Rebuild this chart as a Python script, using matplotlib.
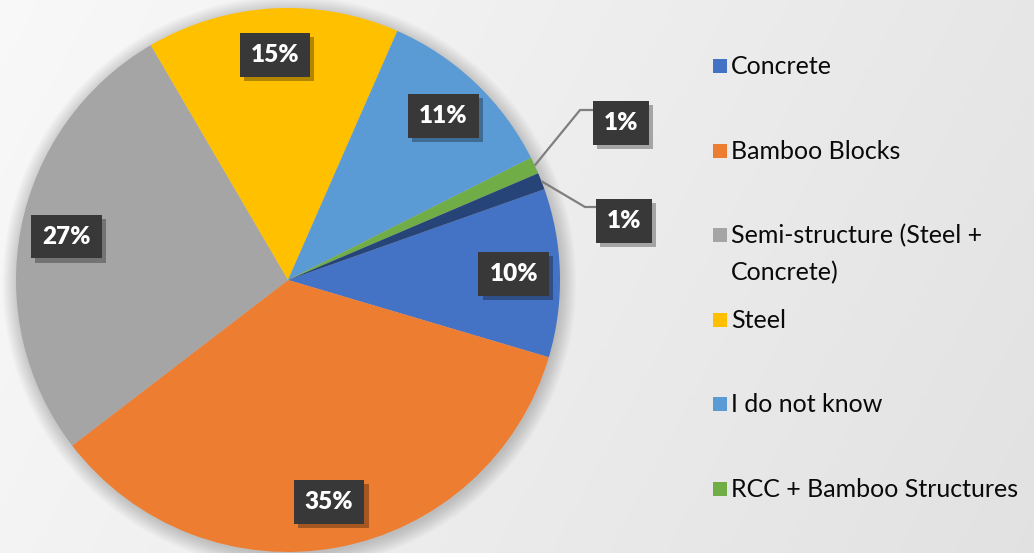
import numpy as np
import matplotlib
matplotlib.use("Agg")
import matplotlib.pyplot as plt
from matplotlib.patches import Rectangle, Circle
import matplotlib.patheffects as pe

# ---- data ----
categories = ["Concrete", "Bamboo Blocks", "Semi-structure (Steel +\nConcrete)",
              "Steel", "I do not know", "RCC + Bamboo Structures", "Other"]
values = [10, 35, 27, 15, 11, 1, 1]
labels = ["10%", "35%", "27%", "15%", "11%", "1%", "1%"]
colors = ["#4472C4", "#ED7D31", "#A5A5A5", "#FFC000", "#5B9BD5", "#70AD47", "#264478"]
legend_count = 6  # the last category is not shown in the legend

W, H, DPI = 1034, 553, 100
fig = plt.figure(figsize=(W / DPI, H / DPI), dpi=DPI)

# background gradient
bg = fig.add_axes([0, 0, 1, 1])
bg.set_axis_off()
xx, yy = np.meshgrid(np.linspace(0, 1, 300), np.linspace(0, 1, 160))
shade = 0.975 - 0.07 * xx - 0.02 * yy
bg.imshow(np.dstack([shade, shade, shade]), extent=[0, 1, 0, 1], aspect="auto",
          origin="upper", zorder=0)
bg.set_xlim(0, 1)
bg.set_ylim(0, 1)

# pie axes: one data unit = pie radius (272 px); centre at pixel (288, 280)
R = 272.0
cx, cy = 288.0, 280.0
ax = fig.add_axes([0, 0, 1, 1])
ax.set_axis_off()
ax.patch.set_alpha(0)

# soft shadow around the pie
for k in range(10):
    ax.add_patch(Circle((0.005, -0.01), 1.0 + 0.006 * k, facecolor="black",
                        edgecolor="none", alpha=0.018, zorder=1))

wedges, _ = ax.pie(values, colors=colors, startangle=19.5, counterclock=False,
                   radius=1.0, center=(0, 0), frame=False,
                   wedgeprops=dict(linewidth=0, zorder=2))

ax.set_xlim(-cx / R, (W - cx) / R)
ax.set_ylim(-(H - cy) / R, cy / R)
ax.set_aspect("auto")

def box_label(x, y, s):
    t = ax.text(x, y, s, color="white", fontsize=17.5, fontweight="heavy", family="Lato",
                ha="center", va="center", zorder=6,
                bbox=dict(boxstyle="square,pad=0.45", facecolor="#383838",
                          edgecolor="none"))
    t.get_bbox_patch().set_path_effects(
        [pe.SimplePatchShadow(offset=(3, -3), shadow_rgbFace="black", alpha=0.3),
         pe.Normal()])
    return t

# inside labels
for w, s, v in zip(wedges, labels, values):
    if v < 3:
        continue
    ang = np.deg2rad((w.theta1 + w.theta2) / 2)
    r = 0.83
    box_label(r * np.cos(ang), r * np.sin(ang), s)

# outside labels with leader lines (small slices)
outside = [(5, (580, 110), (597, 110), (621, 123)),
           (6, (585, 207), (600, 207), (624, 221))]
for idx, elbow, end, lab in outside:
    w = wedges[idx]
    ang = np.deg2rad((w.theta1 + w.theta2) / 2)
    p0 = (np.cos(ang), np.sin(ang))
    pts = [p0, ((elbow[0] - cx) / R, (cy - elbow[1]) / R), ((end[0] - cx) / R, (cy - end[1]) / R)]
    ax.plot([p[0] for p in pts], [p[1] for p in pts], color="#7F7F7F", lw=1.6,
            zorder=4, solid_capstyle="butt")
    box_label((lab[0] - cx) / R, (cy - lab[1]) / R, labels[idx])

# legend (manual)
for i in range(legend_count):
    ypx = 66 + i * 84.6
    y = 1 - ypx / H
    fig.patches.append(Rectangle((713 / W, y - 7 / H), 14 / W, 14 / H, transform=fig.transFigure,
                                 facecolor=colors[i], edgecolor="none", zorder=10))
    for j, line in enumerate(categories[i].split("\n")):
        fig.text(731 / W, y - (8 + 37 * j) / H, line, fontsize=18, family="Lato",
                 color="#0a0a0a", ha="left", va="baseline", zorder=10)

fig.savefig("out.png", dpi=DPI)
